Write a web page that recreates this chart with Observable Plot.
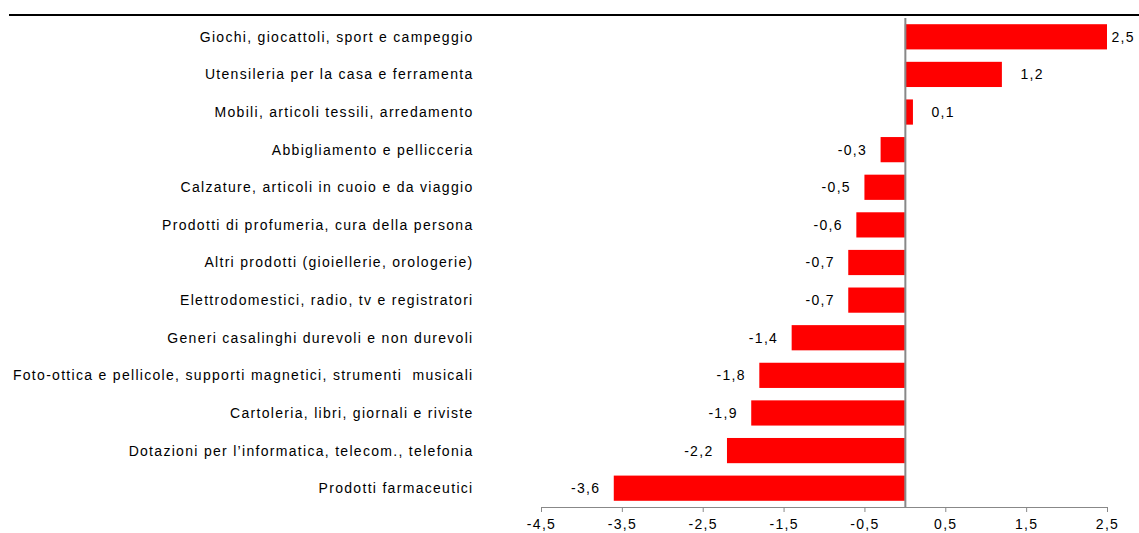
<!DOCTYPE html>
<html>
<head>
<meta charset="utf-8">
<script src="https://cdn.jsdelivr.net/npm/d3@7"></script>
<script src="https://cdn.jsdelivr.net/npm/@observablehq/plot@0.6"></script>
<style>
  html, body { margin: 0; padding: 0; background: #fff; }
  #topline { height: 14px; margin-left: 9px; border-bottom: 2px solid #000; }
  svg { display: block; }
  svg text { letter-spacing: 1.3px; }
</style>
</head>
<body>
<div id="topline"></div>
<div id="chart"></div>
<script>
const categories = [
  "Giochi, giocattoli, sport e campeggio",
  "Utensileria per la casa e ferramenta",
  "Mobili, articoli tessili, arredamento",
  "Abbigliamento e pellicceria",
  "Calzature, articoli in cuoio e da viaggio",
  "Prodotti di profumeria, cura della persona",
  "Altri prodotti (gioiellerie, orologerie)",
  "Elettrodomestici, radio, tv e registratori",
  "Generi casalinghi durevoli e non durevoli",
  "Foto-ottica e pellicole, supporti magnetici, strumenti  musicali",
  "Cartoleria, libri, giornali e riviste",
  "Dotazioni per l’informatica, telecom., telefonia",
  "Prodotti farmaceutici"
];
const values = [2.5, 1.2, 0.1, -0.3, -0.5, -0.6, -0.7, -0.7, -1.4, -1.8, -1.9, -2.2, -3.6];
const xTicks = [-4.5, -3.5, -2.5, -1.5, -0.5, 0.5, 1.5, 2.5];

const data = categories.map((c, i) => ({category: c, value: values[i]}));
const fmt = d => d.toFixed(1).replace(".", ",");

const chart = Plot.plot({
  width: 1139,
  height: 517,
  marginLeft: 541,
  marginRight: 32,
  marginTop: 2,
  marginBottom: 26,
  style: {fontFamily: "'Liberation Sans', Arial, sans-serif", fontSize: "14px", color: "#000", background: "#fff"},
  x: {domain: [-4.5, 2.5], ticks: xTicks, tickFormat: fmt, label: null},
  y: {domain: categories, paddingInner: 0.33, paddingOuter: 0.165, round: false, label: null},
  marks: [
    Plot.barX(data, {x: "value", y: "category", fill: "#ff0000"}),
    Plot.ruleX([0], {stroke: "#888", strokeWidth: 2}),
    Plot.frame({anchor: "bottom", stroke: "#888"}),
    Plot.axisY({tickSize: 0, tickPadding: 68, fontSize: 14, fill: "#000"}),
    Plot.axisX({ticks: xTicks, tickFormat: fmt, tickSize: 5, tickPadding: 7, stroke: "#888", fill: "#000", fontSize: 14, label: null}),
    Plot.text(data.filter(d => d.value >= 0 && d.value < 2), {x: "value", y: "category", text: d => fmt(d.value), textAnchor: "start", dx: 18, fill: "#000", fontSize: 14}),
    Plot.text(data.filter(d => d.value >= 2), {x: "value", y: "category", text: d => fmt(d.value), textAnchor: "start", dx: 4, fill: "#000", fontSize: 14}),
    Plot.text(data.filter(d => d.value < 0), {x: "value", y: "category", text: d => fmt(d.value), textAnchor: "end", dx: -14, fill: "#000", fontSize: 14})
  ]
});

document.getElementById("chart").appendChild(chart);
</script>
</body>
</html>
